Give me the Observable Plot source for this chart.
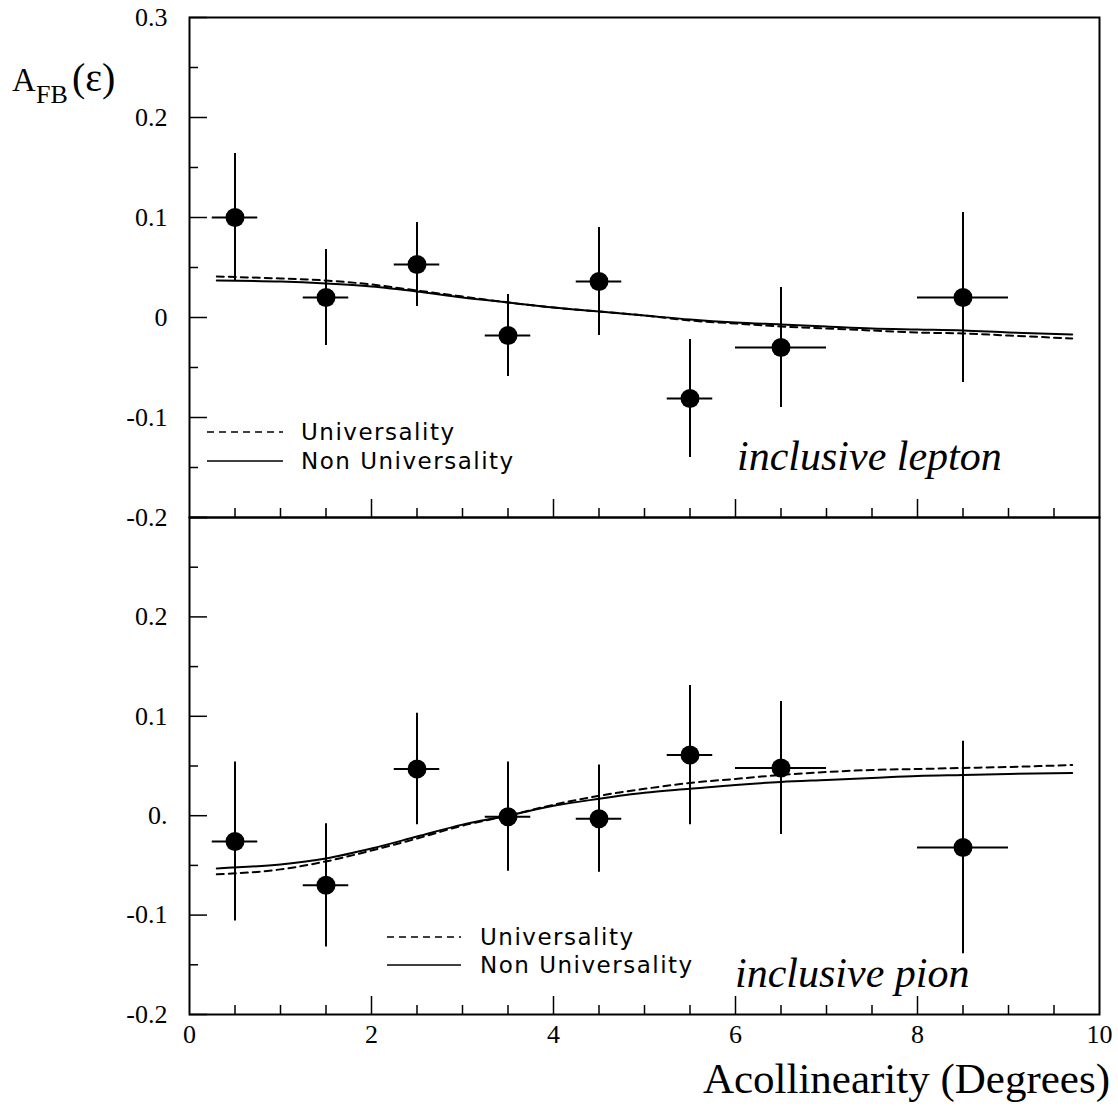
<!DOCTYPE html>
<html>
<head>
<meta charset="utf-8">
<script src="https://cdn.jsdelivr.net/npm/d3@7"></script>
<script src="https://cdn.jsdelivr.net/npm/@observablehq/plot@0.6"></script>
<style>
  body { margin: 0; background: #fff; }
  #chart { position: relative; width: 1118px; height: 1106px; background: #fff; overflow: hidden; }
  #chart svg.panel { position: absolute; left: 0; }
  #chart svg.panel text { font-family: 'Liberation Serif', 'Times New Roman', serif !important; }
  #overlay { position: absolute; left: 0; top: 0; }
</style>
</head>
<body>
<div id="chart"></div>
<script>
// Acollinearity bins (degrees) and their half widths
const binCenters = [0.5, 1.5, 2.5, 3.5, 4.5, 5.5, 6.5, 8.5];
const binHalfWidth = [0.25, 0.25, 0.25, 0.25, 0.25, 0.25, 0.5, 0.5];

// Inclusive lepton sample: measured asymmetry and its error
const leptonAfb = [0.100, 0.020, 0.053, -0.018, 0.036, -0.081, -0.030, 0.020];
const leptonErr = [0.064, 0.048, 0.042, 0.041, 0.054, 0.059, 0.060, 0.085];

// Inclusive pion sample
const pionAfb = [-0.026, -0.070, 0.047, -0.001, -0.003, 0.061, 0.048, -0.032];
const pionErr = [0.080, 0.062, 0.056, 0.055, 0.054, 0.070, 0.067, 0.107];

// Fit curves sampled along acollinearity
const fitX = [0.3, 1, 1.5, 2, 2.5, 3, 3.5, 4, 4.5, 5, 5.5, 6, 6.5, 7, 7.5, 8, 8.5, 9, 9.7];
const leptonUniv    = [0.041, 0.039, 0.037, 0.033, 0.027, 0.021, 0.015, 0.010, 0.006, 0.002, -0.003, -0.006, -0.009, -0.011, -0.013, -0.015, -0.016, -0.018, -0.021];
const leptonNonUniv = [0.037, 0.036, 0.034, 0.031, 0.026, 0.020, 0.015, 0.010, 0.006, 0.002, -0.002, -0.005, -0.007, -0.009, -0.011, -0.012, -0.013, -0.015, -0.017];
const pionUniv      = [-0.059, -0.054, -0.046, -0.035, -0.023, -0.010, 0.000, 0.011, 0.020, 0.027, 0.033, 0.037, 0.041, 0.044, 0.046, 0.047, 0.048, 0.049, 0.051];
const pionNonUniv   = [-0.053, -0.049, -0.043, -0.033, -0.021, -0.009, 0.000, 0.010, 0.017, 0.023, 0.027, 0.031, 0.034, 0.036, 0.038, 0.040, 0.041, 0.042, 0.043];

// Axis ticks
const xMajorTicks = [2, 4, 6, 8];
const xMinorTicks = [0.5, 1, 1.5, 2.5, 3, 3.5, 4.5, 5, 5.5, 6.5, 7, 7.5, 8.5, 9, 9.5];
const xTickLabels = [0, 2, 4, 6, 8, 10];
const yMajorTicks = [-0.2, -0.1, 0, 0.1, 0.2, 0.3];
const yMinorTicks = [-0.15, -0.05, 0.05, 0.15, 0.25];
const leptonYLabels = [-0.2, -0.1, 0, 0.1, 0.2, 0.3];
const pionYLabels = [-0.2, -0.1, 0, 0.1, 0.2];

const W = 1118, ML = 189, MR = 19;
const serif = "'Liberation Serif', 'Times New Roman', serif";

function panel({afb, err, univ, nonUniv, yLabels, zeroText, height, marginTop, marginBottom, withXAxis}) {
  const innerH = height - marginTop - marginBottom;
  const innerW = W - ML - MR;
  const rows = binCenters.map((x, i) => ({x, y: afb[i], e: err[i], hw: binHalfWidth[i]}));
  const fit = fitX.map((x, i) => ({x, u: univ[i], nu: nonUniv[i]}));
  const fmt = d => (Math.abs(d) < 1e-9 ? zeroText : d.toFixed(1));
  const marks = [
    Plot.frame({stroke: "#000", strokeWidth: 2}),
    Plot.tickX(xMinorTicks, {x: d => d, insetTop: innerH - 9, strokeWidth: 1.5}),
    Plot.tickX(xMajorTicks, {x: d => d, insetTop: innerH - 18, strokeWidth: 1.5}),
    Plot.tickY(yMinorTicks, {y: d => d, insetRight: innerW - 9, strokeWidth: 1.5}),
    Plot.tickY(yMajorTicks, {y: d => d, insetRight: innerW - 18, strokeWidth: 1.5}),
    Plot.axisY({ticks: yLabels, tickFormat: fmt, tickSize: 0, tickPadding: 22, label: null,
                fontFamily: serif, fontSize: 26, fill: "#000"}),
    Plot.line(fit, {x: "x", y: "u", stroke: "#000", strokeWidth: 2, strokeDasharray: "7,5", curve: "monotone-x"}),
    Plot.line(fit, {x: "x", y: "nu", stroke: "#000", strokeWidth: 2, curve: "monotone-x"}),
    Plot.ruleX(rows, {x: "x", y1: d => d.y - d.e, y2: d => d.y + d.e, stroke: "#000", strokeWidth: 2}),
    Plot.ruleY(rows, {y: "y", x1: d => d.x - d.hw, x2: d => d.x + d.hw, stroke: "#000", strokeWidth: 2}),
    Plot.dot(rows, {x: "x", y: "y", r: 9.5, fill: "#000"})
  ];
  if (withXAxis) {
    marks.push(Plot.axisX({ticks: xTickLabels, tickFormat: d => String(d), tickSize: 0, tickPadding: 10, label: null,
                           fontFamily: serif, fontSize: 26, fill: "#000"}));
  }
  return Plot.plot({
    width: W,
    height,
    marginLeft: ML,
    marginRight: MR,
    marginTop,
    marginBottom,
    x: {domain: [0, 10], axis: withXAxis ? undefined : null},
    y: {domain: [-0.2, 0.3]},
    style: {background: "transparent", fontFamily: serif, fontSize: "26px", color: "#000", overflow: "visible"},
    marks
  });
}

const chart = document.getElementById("chart");

// Upper panel: frame spans y = 17..517 px
const leptonPanel = panel({
  afb: leptonAfb, err: leptonErr, univ: leptonUniv, nonUniv: leptonNonUniv,
  yLabels: leptonYLabels, zeroText: "0",
  height: 547, marginTop: 17, marginBottom: 30, withXAxis: false
});
leptonPanel.classList.add("panel");
leptonPanel.style.top = "0px";
chart.appendChild(leptonPanel);

// Lower panel: frame spans y = 517..1014 px
const pionPanel = panel({
  afb: pionAfb, err: pionErr, univ: pionUniv, nonUniv: pionNonUniv,
  yLabels: pionYLabels, zeroText: "0.",
  height: 601, marginTop: 12, marginBottom: 92, withXAxis: true
});
pionPanel.classList.add("panel");
pionPanel.style.top = "505px";
chart.appendChild(pionPanel);

// Titles, sample names and legends
const ov = d3.create("svg")
  .attr("id", "overlay")
  .attr("width", W).attr("height", 1106);

const ylab = ov.append("text")
  .attr("font-family", serif).attr("fill", "#000");
ylab.append("tspan").attr("x", 12).attr("y", 91).attr("font-size", 33).text("A");
ylab.append("tspan").attr("x", 36).attr("y", 103).attr("font-size", 26).text("FB");
ylab.append("tspan").attr("x", 72).attr("y", 91).attr("font-size", 40).text("(ε)");

ov.append("text")
  .attr("x", 1110).attr("y", 1093)
  .attr("text-anchor", "end")
  .attr("font-family", serif).attr("font-size", 43).attr("fill", "#000")
  .text("Acollinearity (Degrees)");

const sampleNames = [
  {text: "inclusive lepton", x: 737, y: 470},
  {text: "inclusive pion", x: 735, y: 987}
];
for (const s of sampleNames) {
  ov.append("text")
    .attr("x", s.x).attr("y", s.y)
    .attr("font-family", serif).attr("font-style", "italic")
    .attr("font-size", 42).attr("fill", "#000")
    .text(s.text);
}

const legendNames = ["Universality", "Non Universality"];
const legends = [
  {x0: 207, x1: 283, tx: 301, y: [432, 461]},
  {x0: 387, x1: 461, tx: 480, y: [937, 965]}
];
for (const lg of legends) {
  legendNames.forEach((name, i) => {
    ov.append("line")
      .attr("x1", lg.x0).attr("x2", lg.x1)
      .attr("y1", lg.y[i]).attr("y2", lg.y[i])
      .attr("stroke", "#000").attr("stroke-width", 1.6)
      .attr("stroke-dasharray", i === 0 ? "7,5" : null);
    ov.append("text")
      .attr("x", lg.tx).attr("y", lg.y[i] + 8)
      .attr("font-family", "'DejaVu Sans', sans-serif")
      .attr("font-size", 23).attr("letter-spacing", 1.5)
      .attr("fill", "#000")
      .text(name);
  });
}

chart.appendChild(ov.node());
</script>
</body>
</html>
